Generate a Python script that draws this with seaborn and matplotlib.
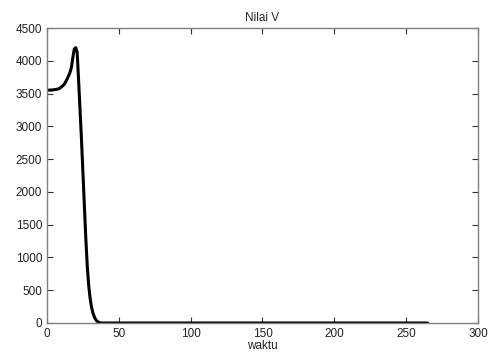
import matplotlib
matplotlib.use("Agg")
import matplotlib.pyplot as plt
import seaborn as sns
import pandas as pd

waktu = [0, 4, 8, 10, 12, 14, 16, 17, 18, 19, 20, 21, 22, 23, 24, 25, 26, 27, 28, 29,
         30, 31, 32, 33, 34, 35, 36, 37, 38, 40, 100, 200, 265]
nilai_v = [3550, 3555, 3570, 3600, 3640, 3720, 3820, 3900, 4050, 4180, 4200, 4130, 3700,
           3250, 2800, 2300, 1800, 1300, 880, 580, 380, 240, 150, 90, 50, 25, 10, 3, 0, 0,
           0, 0, 0]
xticks = [0, 50, 100, 150, 200, 250, 300]
yticks = [0, 500, 1000, 1500, 2000, 2500, 3000, 3500, 4000, 4500]

sns.set_style("white")
plt.rcParams['font.family'] = ['Liberation Sans', 'DejaVu Sans']

df = pd.DataFrame({"waktu": waktu, "V": nilai_v})

fig = plt.figure(figsize=(4.88, 3.54), dpi=100)
ax = fig.add_axes([0.0963, 0.0876, 0.8832, 0.8333])
sns.lineplot(data=df, x="waktu", y="V", ax=ax, color="black", linewidth=2.2)

ax.set_xlim(0, 300)
ax.set_ylim(0, 4500)
ax.set_xticks(xticks)
ax.set_yticks(yticks)
ax.tick_params(direction="in", length=4, width=0.8, colors="#333333", labelsize=8.5,
               top=True, right=True, bottom=True, left=True, labelcolor="#222222")
for s in ax.spines.values():
    s.set_color("#808080")
    s.set_linewidth(1.0)
ax.set_title("Nilai V", fontsize=8.5, pad=5)
ax.set_xlabel("waktu", fontsize=8.5, labelpad=0)
ax.set_ylabel("")

fig.savefig("out.png", dpi=100)
